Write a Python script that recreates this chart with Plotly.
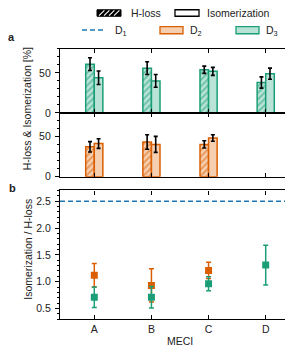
import plotly.graph_objects as go

# ---------------- data ----------------
categories = ["A", "B", "C", "D"]

# panel a (top): D3
hloss_D3 = [61, 56, 54, 38]
hloss_D3_err = [8, 8, 4.5, 7]
iso_D3 = [44, 40, 52, 49]
iso_D3_err = [8.5, 8, 5, 7]

# panel a (bottom): D2
cats_D2 = ["A", "B", "C"]
hloss_D2 = [37.5, 43.5, 40.5]
hloss_D2_err = [6.5, 9, 4.5]
iso_D2 = [41.5, 40.5, 48.5]
iso_D2_err = [6, 10, 4]

# panel b: ratio
ratio_D2 = [1.12, 0.93, 1.21]
ratio_D2_err = [0.22, 0.31, 0.15]
ratio_D3 = [0.71, 0.71, 0.96, 1.31]
ratio_D3_err = [0.19, 0.2, 0.13, 0.37]
ratio_D1 = 2.5

yticks_a = [0, 50]
yticks_b = [0.5, 1.0, 1.5, 2.0, 2.5]

# ---------------- styles ----------------
W, H = 293, 346
GREEN = "#1b9e77"
GREEN_L = "#b9e3d6"
ORANGE = "#d95f02"
ORANGE_L = "#f6cfb0"
BLUE = "#1f77b4"
FONT = "Liberation Sans, Arial, sans-serif"
TXT = "#222222"


def X(px):
    return px / W


def Y(py):
    return 1 - py / H


xdom = [X(52), X(292)]
dom_a1 = [Y(106.7), Y(41.7)]
dom_a2 = [Y(171.7), Y(106.7)]
dom_b = [Y(316.7), Y(185.7)]

fig = go.Figure()


def bars(x, h, he, iso, isoe, col, light, xa, ya):
    fig.add_trace(go.Bar(
        x=x, y=h, width=0.15, offset=-0.15, xaxis=xa, yaxis=ya,
        marker=dict(color=light, line=dict(color=col, width=1.5),
                    pattern=dict(shape="/", fgcolor=col, bgcolor=light, size=4.5, solidity=0.4)),
        error_y=dict(type="data", array=he, color="black", thickness=1.6, width=2),
        showlegend=False))
    fig.add_trace(go.Bar(
        x=x, y=iso, width=0.15, offset=0, xaxis=xa, yaxis=ya,
        marker=dict(color=light, line=dict(color=col, width=1.5)),
        error_y=dict(type="data", array=isoe, color="black", thickness=1.6, width=2),
        showlegend=False))


bars(categories, hloss_D3, hloss_D3_err, iso_D3, iso_D3_err, GREEN, GREEN_L, "x", "y")
bars(cats_D2, hloss_D2, hloss_D2_err, iso_D2, iso_D2_err, ORANGE, ORANGE_L, "x2", "y2")

fig.add_trace(go.Scatter(
    x=cats_D2, y=ratio_D2, mode="markers", xaxis="x3", yaxis="y3",
    marker=dict(symbol="square", size=7, color=ORANGE),
    error_y=dict(type="data", array=ratio_D2_err, color=ORANGE, thickness=1.5, width=2.5),
    showlegend=False))
fig.add_trace(go.Scatter(
    x=categories, y=ratio_D3, mode="markers", xaxis="x3", yaxis="y3",
    marker=dict(symbol="square", size=7, color=GREEN),
    error_y=dict(type="data", array=ratio_D3_err, color=GREEN, thickness=1.5, width=2.5),
    showlegend=False))

tickfont = dict(family=FONT, size=10.5, color=TXT)


def xaxis(anchor, labels):
    return dict(domain=xdom, anchor=anchor, type="category", categoryorder="array",
                categoryarray=categories, range=[-0.6, 3.6], showgrid=False, zeroline=False,
                showline=True, linecolor="black", linewidth=1.3, mirror="ticks",
                ticks="inside", ticklen=4, tickcolor="black", tickwidth=1,
                showticklabels=labels, tickfont=tickfont, fixedrange=True)


def yaxis(anchor, dom, rng, tv, minor, fmt=None):
    d = dict(domain=dom, anchor=anchor, range=rng, tickvals=tv, showgrid=False,
             zeroline=False, showline=True, linecolor="black", linewidth=1.3,
             ticks="outside", ticklen=4, tickcolor="black", tickwidth=1,
             minor=dict(dtick=minor, ticks="outside", ticklen=2, tickcolor="black", tickwidth=1),
             tickfont=tickfont, ticklabelstandoff=2)
    if fmt:
        d["tickformat"] = fmt
    return d


def yright(anchor, overlay, rng, tv, minor):
    return dict(overlaying=overlay, anchor=anchor, side="right", range=rng, tickvals=tv,
                showgrid=False, zeroline=False, showline=False, showticklabels=False,
                ticks="inside", ticklen=4, tickcolor="black", tickwidth=1,
                minor=dict(dtick=minor, ticks="inside", ticklen=2, tickcolor="black", tickwidth=1))


fig.update_layout(
    width=W, height=H, margin=dict(l=0, r=0, t=0, b=0),
    paper_bgcolor="white", plot_bgcolor="white", barmode="overlay",
    font=dict(family=FONT, size=10.5, color=TXT),
    xaxis=xaxis("y", False),
    yaxis=yaxis("x", dom_a1, [0, 80], yticks_a, 10),
    xaxis2=xaxis("y2", False),
    yaxis2=yaxis("x2", dom_a2, [0, 80], yticks_a, 10),
    xaxis3=xaxis("y3", True),
    yaxis3=yaxis("x3", dom_b, [0.3, 2.7], yticks_b, 0.1, ".1f"),
    yaxis4=yright("x", "y", [0, 80], yticks_a, 10),
    yaxis5=yright("x2", "y2", [0, 80], yticks_a, 10),
    yaxis6=yright("x3", "y3", [0.3, 2.7], yticks_b, 0.1),
)

# D1 reference line
fig.add_shape(type="line", xref="x3 domain", x0=0, x1=1, yref="y3", y0=ratio_D1, y1=ratio_D1,
              line=dict(color=BLUE, width=1.5, dash="5px,3px"))

shapes = []
# legend row 1: hatched box
bx0, bx1, by0, by1 = 89, 113, 1.8, 8.4
shapes.append(dict(type="rect", xref="paper", yref="paper", x0=X(bx0), x1=X(bx1), y0=Y(by1), y1=Y(by0),
                   fillcolor="black", line=dict(color="black", width=1)))
for sx in [91, 96, 101, 106]:
    shapes.append(dict(type="line", xref="paper", yref="paper", x0=X(sx), y0=Y(by1 - 0.6),
                       x1=X(sx + 5.4), y1=Y(by0 + 0.6), line=dict(color="white", width=1.1)))
# empty box
shapes.append(dict(type="rect", xref="paper", yref="paper", x0=X(167), x1=X(191), y0=Y(by1), y1=Y(by0),
                   fillcolor="white", line=dict(color="black", width=1.3)))
# row 2
shapes.append(dict(type="line", xref="paper", yref="paper", x0=X(74), x1=X(96), y0=Y(22.3), y1=Y(22.3),
                   line=dict(color=BLUE, width=1.5, dash="5px,3px")))
shapes.append(dict(type="rect", xref="paper", yref="paper", x0=X(152), x1=X(175), y0=Y(26.2), y1=Y(19),
                   fillcolor=ORANGE_L, line=dict(color=ORANGE, width=1.3)))
shapes.append(dict(type="rect", xref="paper", yref="paper", x0=X(228), x1=X(251), y0=Y(26.2), y1=Y(19),
                   fillcolor=GREEN_L, line=dict(color=GREEN, width=1.3)))
for s in shapes:
    fig.add_shape(**s)


def ann(text, x, y, xanchor="left", angle=0, size=10.5):
    fig.add_annotation(text=text, xref="paper", yref="paper", x=X(x), y=Y(y), xanchor=xanchor,
                       yanchor="middle", showarrow=False, textangle=angle,
                       font=dict(family=FONT, size=size, color=TXT), borderpad=0)


ann("H-loss", 121.5, 5.2)
ann("Isomerization", 198, 5.2)
ann("D<sub>1</sub>", 105.5, 23)
ann("D<sub>2</sub>", 181, 23)
ann("D<sub>3</sub>", 257, 23)
ann("<b>a</b>", 3.5, 30, xanchor="center", size=11)
ann("<b>b</b>", 4, 183.5, xanchor="center", size=11)
ann("H-loss & Isomerization [%]", 19, 103, xanchor="center", angle=-90)
ann("Isomerization / H-loss", 20, 246, xanchor="center", angle=-90)
ann("MECI", 172, 338.5, xanchor="center")

fig.write_html("out.html")
